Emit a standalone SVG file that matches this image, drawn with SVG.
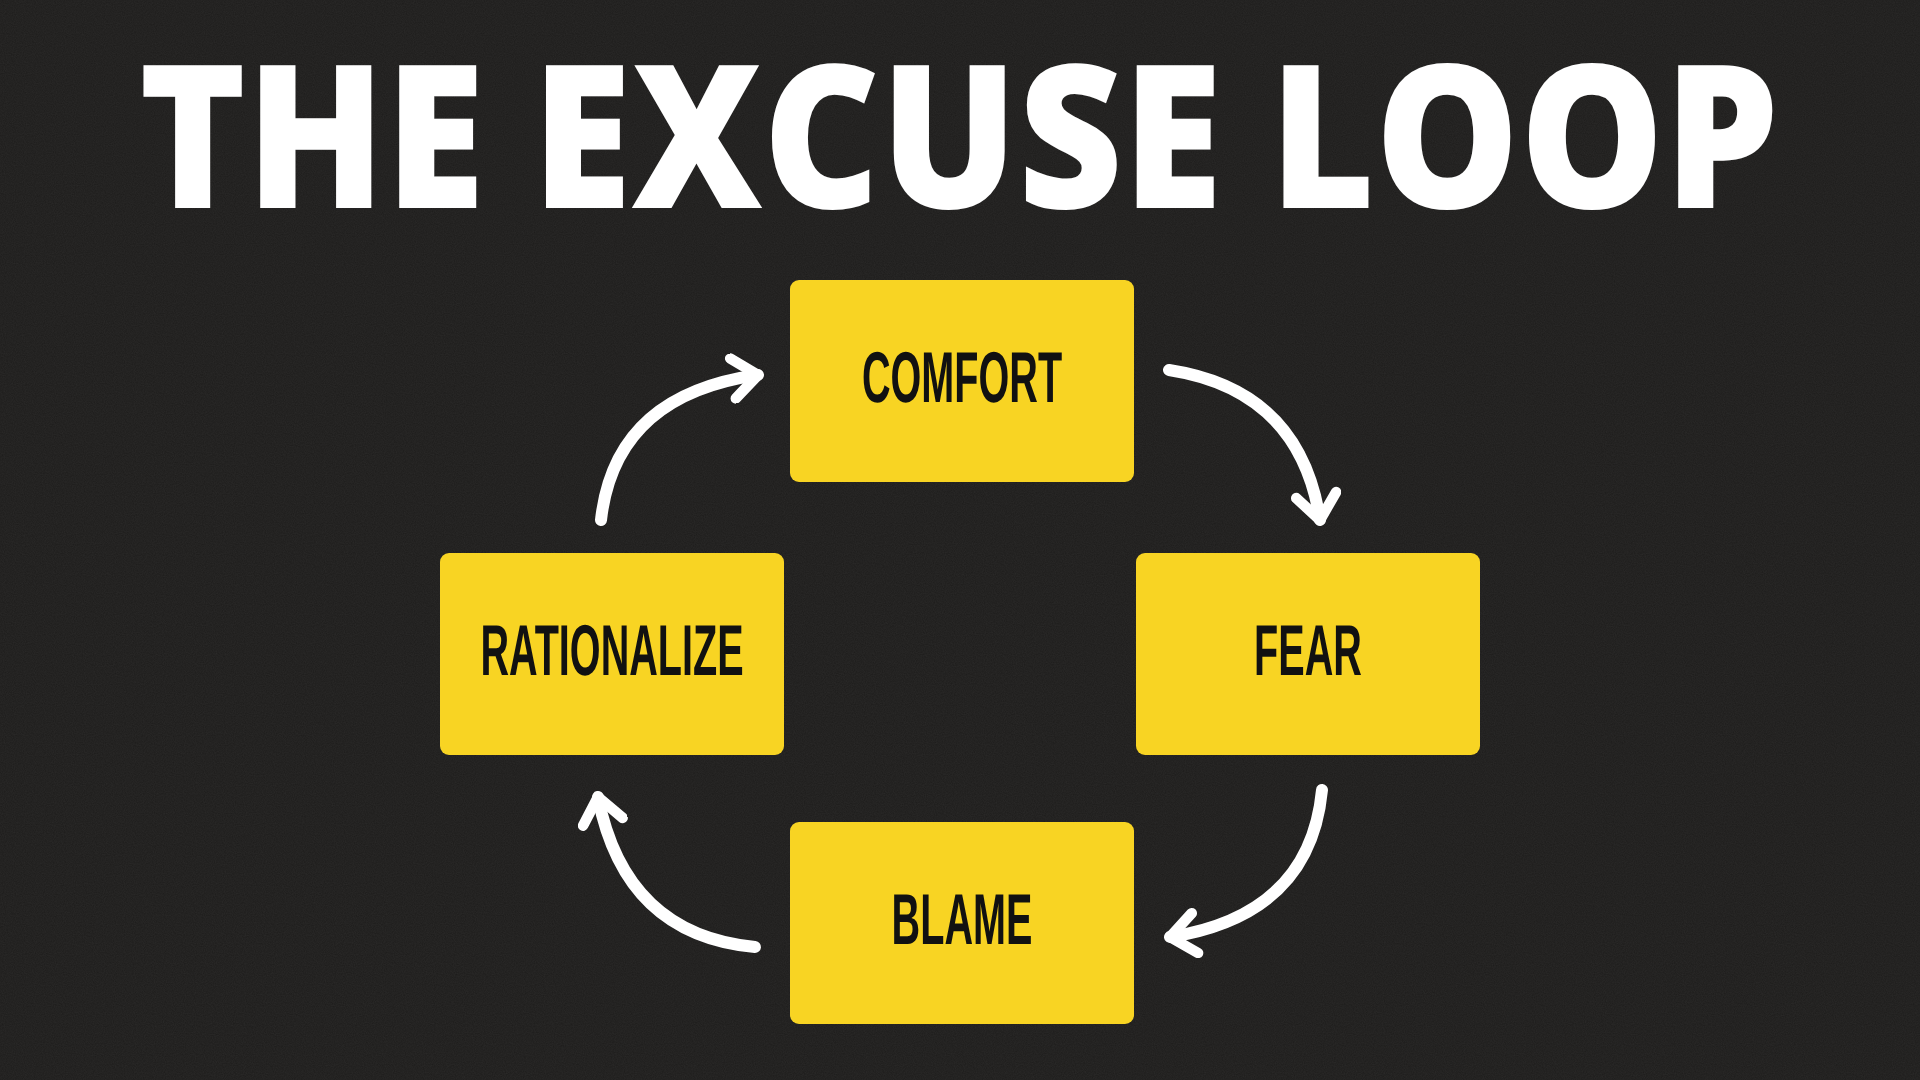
<svg xmlns="http://www.w3.org/2000/svg" width="1920" height="1080" viewBox="0 0 1920 1080" text-rendering="geometricPrecision">
<defs>
<style>
.box{fill:#f8d423;}
.lbl{font-family:"Liberation Sans",Arial,sans-serif;font-weight:bold;font-size:72px;fill:#111;text-anchor:middle;}
.arr{fill:none;stroke:#fff;stroke-width:12;stroke-linecap:round;}
</style>
<marker id="ah" viewBox="0 0 20 20" refX="13" refY="10" markerWidth="4.2" markerHeight="4.2" orient="auto" markerUnits="strokeWidth">
<path d="M3,2 L13,10 L3,18" fill="none" stroke="#fff" stroke-width="4.2" stroke-linecap="round" stroke-linejoin="round"/>
</marker>
<filter id="n"><feTurbulence type="fractalNoise" baseFrequency="0.9" numOctaves="2" seed="3"/><feColorMatrix values="0 0 0 0 1 0 0 0 0 1 0 0 0 0 1 0 0 0 0.06 0"/></filter>
</defs>
<rect width="1920" height="1080" fill="#1d1c1b"/>
<rect width="1920" height="1080" filter="url(#n)"/>
<text x="959" y="208" font-family="'Open Sans','DejaVu Sans',sans-serif" font-weight="800" font-size="200" fill="#fff" text-anchor="middle" textLength="1640" lengthAdjust="spacingAndGlyphs">THE EXCUSE LOOP</text>
<g id="connectors">
<path class="arr" d="M1169,370 Q1300,390 1320,520" marker-end="url(#ah)"/>
<path class="arr" d="M1322,790 Q1310,915 1170,937" marker-end="url(#ah)"/>
<path class="arr" d="M755,947 Q625,935 598,797" marker-end="url(#ah)"/>
<path class="arr" d="M601,520 Q615,395 758,375" marker-end="url(#ah)"/>
</g>
<g id="comfort"><rect class="box" x="790" y="280" width="344" height="202" rx="9"/><text class="lbl" transform="translate(962,402) scale(0.55,1)">COMFORT</text></g>
<g id="fear"><rect class="box" x="1136" y="553" width="344" height="202" rx="9"/><text class="lbl" transform="translate(1308,675) scale(0.55,1)">FEAR</text></g>
<g id="rationalize"><rect class="box" x="440" y="553" width="344" height="202" rx="9"/><text class="lbl" transform="translate(612,675) scale(0.55,1)">RATIONALIZE</text></g>
<g id="blame"><rect class="box" x="790" y="822" width="344" height="202" rx="9"/><text class="lbl" transform="translate(962,944) scale(0.55,1)">BLAME</text></g>
</svg>
